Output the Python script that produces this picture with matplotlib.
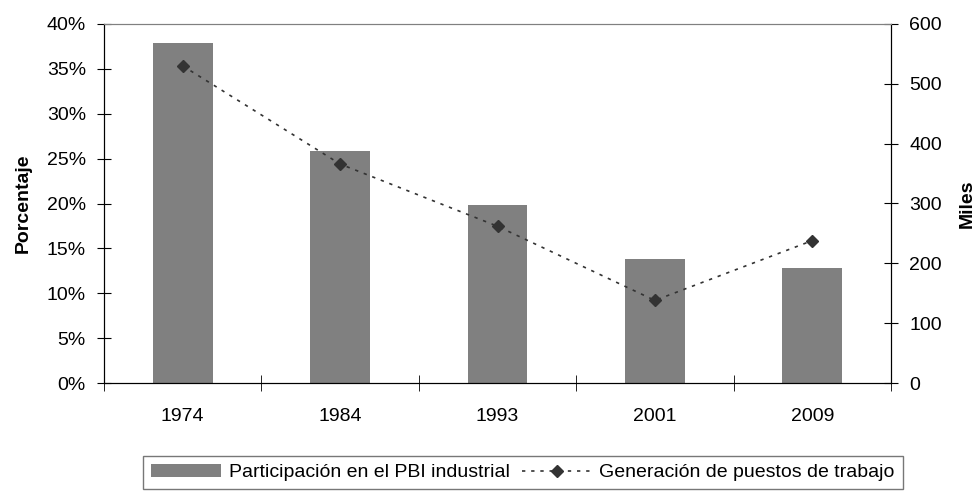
import numpy as np
import matplotlib.pyplot as plt
from matplotlib.ticker import FuncFormatter

plt.rcParams['font.family'] = ['Liberation Sans', 'DejaVu Sans']
plt.rcParams['font.size'] = 14

years = ['1974', '1984', '1993', '2001', '2009']
participacion = [37.9, 25.8, 19.8, 13.8, 12.8]   # %
puestos = [530, 366, 262, 138, 238]              # miles

fig = plt.figure(figsize=(9.74, 4.91), dpi=100)
ax = fig.add_axes([104/974, 1-383/491, (891-104)/974, (383-24)/491])
x = np.arange(len(years))

bars = ax.bar(x, participacion, width=0.38, color='#808080',
              label='Participación en el PBI industrial', zorder=2)
ax.set_xlim(-0.5, len(years)-0.5)
ax.set_ylim(0, 40)
ax.set_yticks(np.arange(0, 41, 5))
ax.yaxis.set_major_formatter(FuncFormatter(lambda v, p: '%d%%' % v))
ax.set_xticks(x)
ax.set_xticklabels(years)
ax.set_xticks(np.arange(-0.5, len(years), 1), minor=True)
ax.tick_params(axis='x', which='major', length=0, pad=18, labelsize=14)
ax.tick_params(axis='x', which='minor', direction='inout', length=11)
ax.tick_params(axis='y', direction='inout', length=10, pad=8, labelsize=14)
ax.set_ylabel('Porcentaje', fontweight='bold', labelpad=11, fontsize=14)
ax.spines['top'].set_color('#808080')

ax2 = ax.twinx()
line, = ax2.plot(x, puestos, linestyle=(0, (2, 3.5)), color='#333333', lw=1.2,
                 marker='D', markersize=6, label='Generación de puestos de trabajo')
ax2.set_ylim(0, 600)
ax2.set_yticks(np.arange(0, 601, 100))
ax2.tick_params(axis='y', direction='inout', length=10, pad=8, labelsize=14)
ax2.set_ylabel('Miles', fontweight='bold', labelpad=12, fontsize=14)
ax2.spines['top'].set_color('#808080')

fig.legend(handles=[bars, line], loc='upper center', ncol=2,
           bbox_to_anchor=(523/974, 1-456/491), frameon=True, fancybox=False,
           edgecolor='#555555', fontsize=14, handlelength=3.6,
           columnspacing=0.6, handletextpad=0.4, borderpad=0.4,
           borderaxespad=0)

fig.savefig('out.png', dpi=100)
